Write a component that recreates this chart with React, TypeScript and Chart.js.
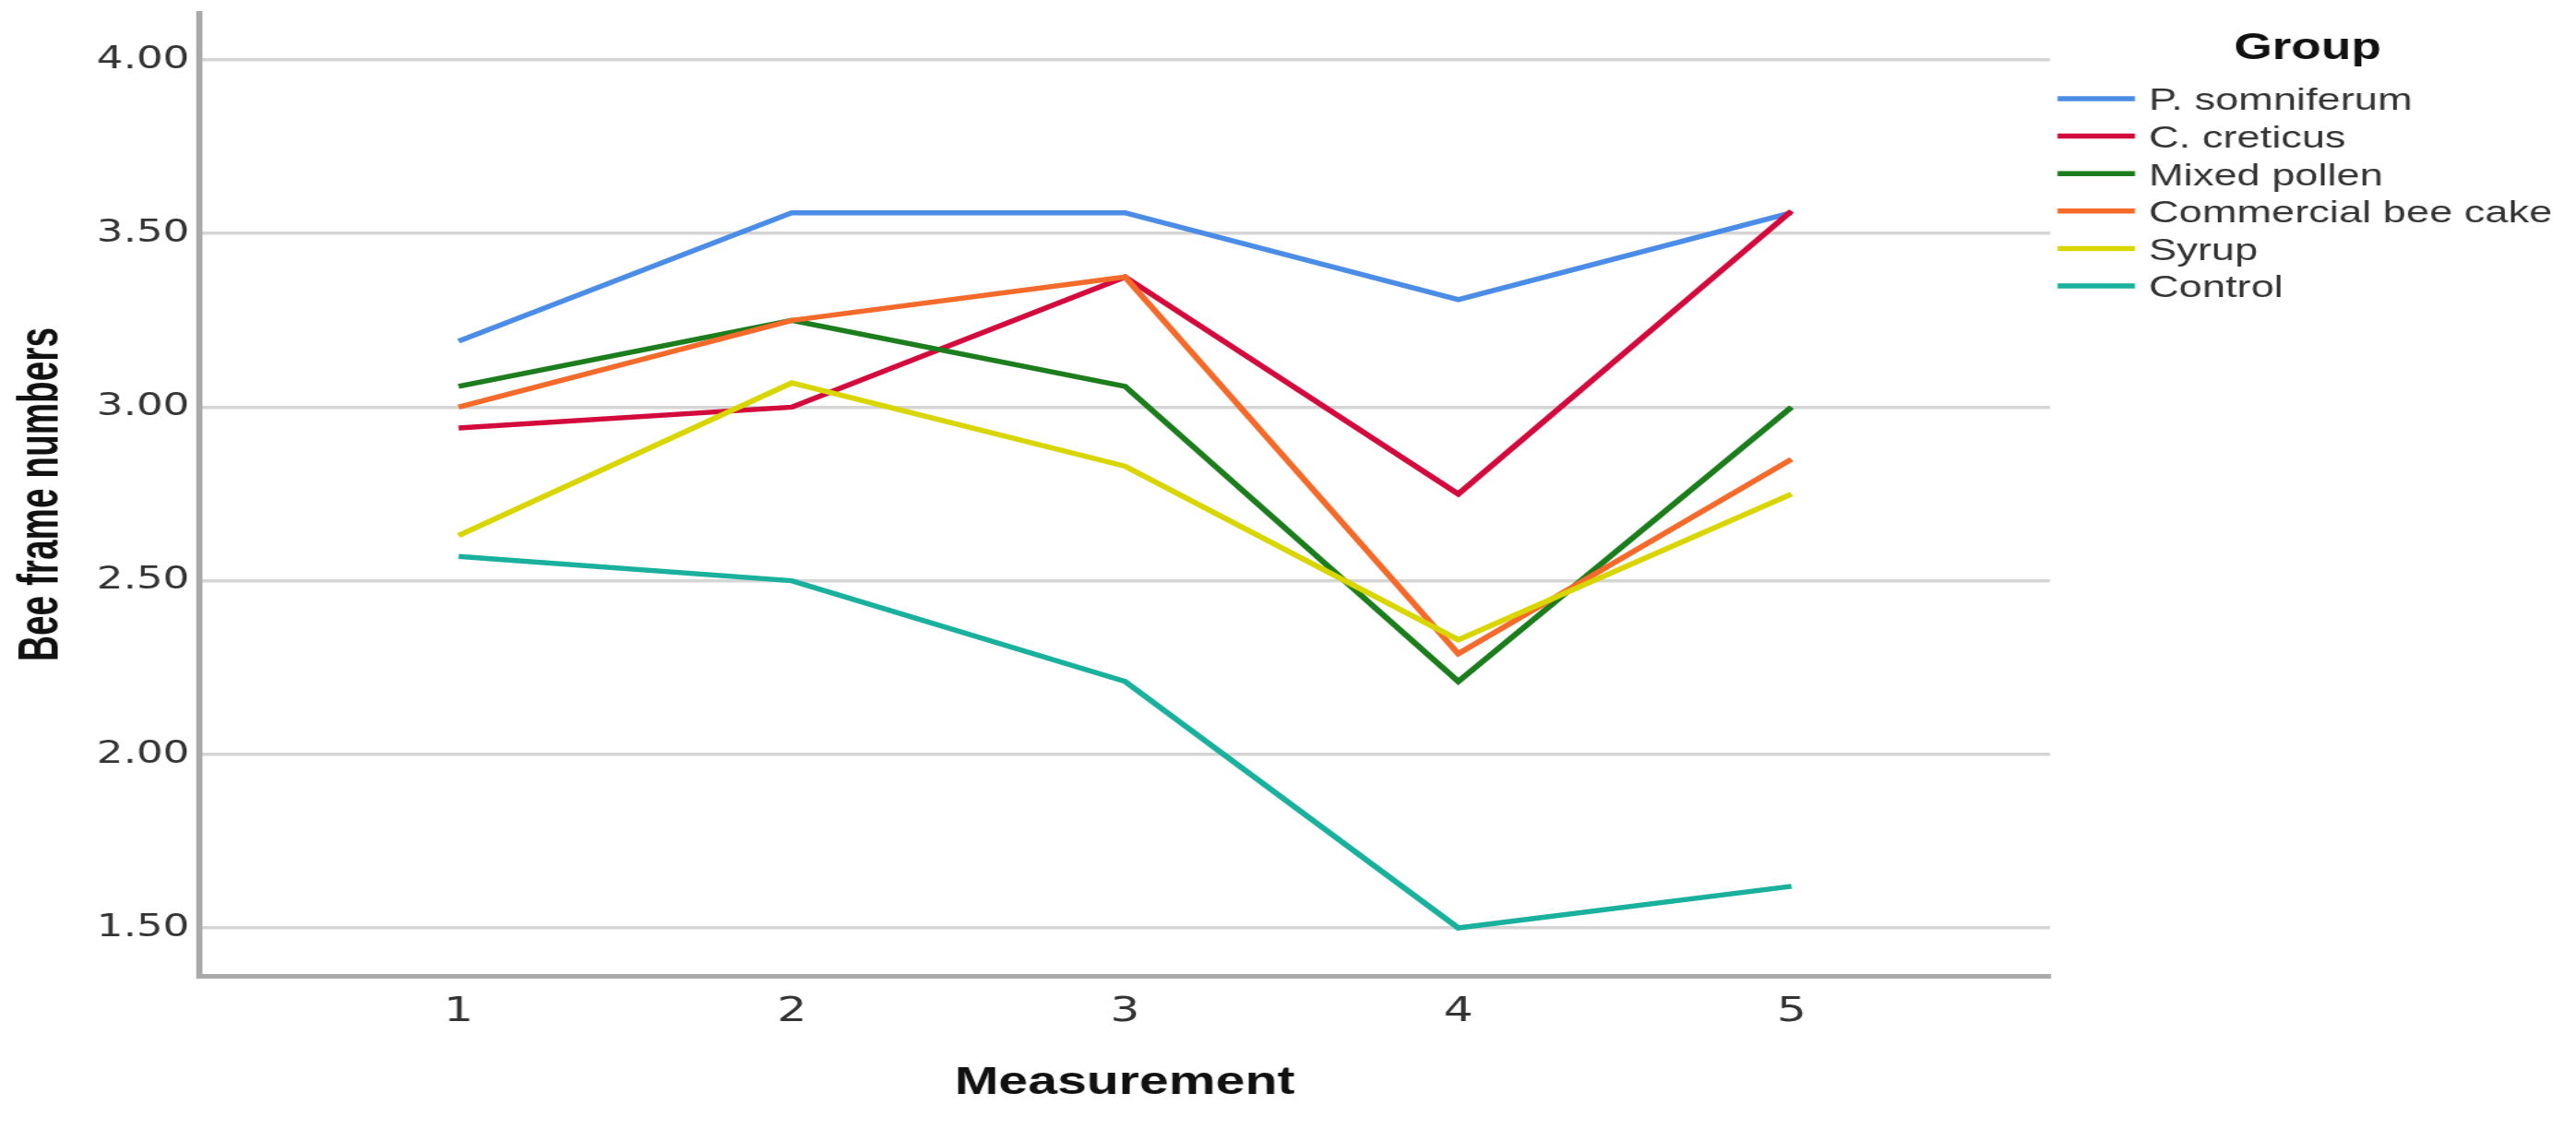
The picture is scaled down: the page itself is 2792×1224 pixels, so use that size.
import React, { useEffect, useRef } from "react";
import { Chart, registerables } from "chart.js";

Chart.register(...registerables);

// ---- data ----
const measurements = [1, 2, 3, 4, 5];
const groupNames = [
  "P. somniferum",
  "C. creticus",
  "Mixed pollen",
  "Commercial bee cake",
  "Syrup",
  "Control",
];
const pSomniferum = [3.19, 3.56, 3.56, 3.31, 3.56];
const cCreticus = [2.94, 3.0, 3.375, 2.75, 3.565];
const mixedPollen = [3.06, 3.25, 3.06, 2.21, 3.0];
const commercialBeeCake = [3.0, 3.25, 3.375, 2.29, 2.85];
const syrup = [2.63, 3.07, 2.83, 2.33, 2.75];
const control = [2.57, 2.5, 2.21, 1.5, 1.62];
const yTicks = [1.5, 2.0, 2.5, 3.0, 3.5, 4.0];
const yTitle = "Bee frame numbers";
const xTitle = "Measurement";
const legendTitle = "Group";

const seriesValues = [pSomniferum, cCreticus, mixedPollen, commercialBeeCake, syrup, control];
const seriesColors = ["#4B8DE6", "#D30B3D", "#1C7D1C", "#F36A2B", "#D9D500", "#19B09E"];

// ---- layout (canvas is rendered narrower and stretched horizontally like the reference) ----
const FULL_W = 2792;
const FULL_H = 1224;
const W = 2100;
const S = FULL_W / W;
const AREA_LEFT = 216 / S;
const AREA_RIGHT = 2222 / S;
const AREA_TOP = 14;
const AREA_BOTTOM = 1058;

const textPlugin = {
  id: "groupLegendAndTitle",
  afterDraw(chart: any) {
    const ctx = chart.ctx as CanvasRenderingContext2D;
    // y-axis title (condensed bold)
    ctx.save();
    ctx.translate(46.5, (AREA_TOP + AREA_BOTTOM) / 2);
    ctx.rotate(-Math.PI / 2);
    ctx.font = 'bold 46px "Liberation Sans", Arial, sans-serif';
    const w = ctx.measureText(yTitle).width;
    ctx.scale(362 / w, 1);
    ctx.fillStyle = "#111111";
    ctx.textAlign = "center";
    ctx.textBaseline = "alphabetic";
    ctx.fillText(yTitle, 0, 0);
    ctx.restore();

    // legend
    ctx.save();
    ctx.fillStyle = "#111111";
    ctx.font = 'bold 40px "Liberation Sans", Arial, sans-serif';
    ctx.textAlign = "center";
    ctx.textBaseline = "middle";
    ctx.fillText(legendTitle, 2501 / S, 53);
    const x0 = 2230 / S;
    const x1 = 2314 / S;
    const tx = 2329 / S;
    ctx.font = '34px "Liberation Sans", Arial, sans-serif';
    ctx.textAlign = "left";
    groupNames.forEach((name, i) => {
      const y = 107 + i * 40.6;
      ctx.strokeStyle = seriesColors[i];
      ctx.lineWidth = 5.5;
      ctx.lineCap = "butt";
      ctx.beginPath();
      ctx.moveTo(x0, y);
      ctx.lineTo(x1, y);
      ctx.stroke();
      ctx.fillStyle = "#333333";
      ctx.fillText(name, tx, y + 3);
    });
    ctx.restore();
  },
};

export default function App() {
  const canvasRef = useRef<HTMLCanvasElement | null>(null);

  useEffect(() => {
    if (!canvasRef.current) return;
    const n = seriesValues.length;
    const chart = new Chart(canvasRef.current, {
      type: "line",
      data: {
        datasets: seriesValues.map((vals, i) => ({
          label: groupNames[i],
          data: vals.map((v, j) => ({ x: measurements[j], y: v })),
          borderColor: seriesColors[i],
          backgroundColor: seriesColors[i],
          borderWidth: 5.5,
          pointRadius: 0,
          pointHoverRadius: 0,
          tension: 0,
          fill: false,
          order: n - i,
        })),
      },
      options: {
        responsive: false,
        animation: false,
        devicePixelRatio: 1,
        layout: {
          padding: { top: AREA_TOP, right: W - AREA_RIGHT, left: 0, bottom: 0 },
        },
        plugins: {
          legend: { display: false },
          tooltip: { enabled: false },
        },
        scales: {
          x: {
            type: "linear",
            min: 0.222,
            max: 5.776,
            afterBuildTicks: (scale: any) => {
              scale.ticks = measurements.map((v) => ({ value: v }));
            },
            afterFit: (scale: any) => {
              scale.height = FULL_H - AREA_BOTTOM;
              scale.paddingLeft = 0;
              scale.paddingRight = 0;
            },
            grid: { display: false, drawTicks: false },
            border: { display: true, color: "#a9a9a9", width: 5 },
            ticks: {
              padding: 16,
              color: "#333333",
              font: { family: '"DejaVu Sans", sans-serif', size: 38 },
              callback: (v: any) => String(v),
            },
            title: {
              display: true,
              text: xTitle,
              color: "#111111",
              font: { family: '"Liberation Sans", Arial, sans-serif', size: 43, weight: "bold" },
              padding: { top: 0, bottom: 24 },
            },
          },
          y: {
            type: "linear",
            min: 1.362,
            max: 4.1355,
            afterBuildTicks: (scale: any) => {
              scale.ticks = yTicks.map((v) => ({ value: v }));
            },
            afterFit: (scale: any) => {
              scale.width = AREA_LEFT;
              scale.paddingTop = 0;
              scale.paddingBottom = 0;
            },
            grid: { color: "#d5d5d5", lineWidth: 3.5, drawTicks: false },
            border: { display: true, color: "#a9a9a9", width: 5 },
            ticks: {
              padding: 8,
              color: "#333333",
              font: { family: '"DejaVu Sans", sans-serif', size: 34 },
              callback: (v: any) => Number(v).toFixed(2),
            },
            title: { display: false },
          },
        },
      },
      plugins: [textPlugin],
    });
    return () => chart.destroy();
  }, []);

  return (
    <div
      style={{
        position: "fixed",
        left: 0,
        top: 0,
        width: FULL_W + "px",
        height: FULL_H + "px",
        background: "#ffffff",
        overflow: "hidden",
      }}
    >
      <canvas
        ref={canvasRef}
        width={W}
        height={FULL_H}
        style={{ width: FULL_W + "px", height: FULL_H + "px", display: "block" }}
      />
    </div>
  );
}
